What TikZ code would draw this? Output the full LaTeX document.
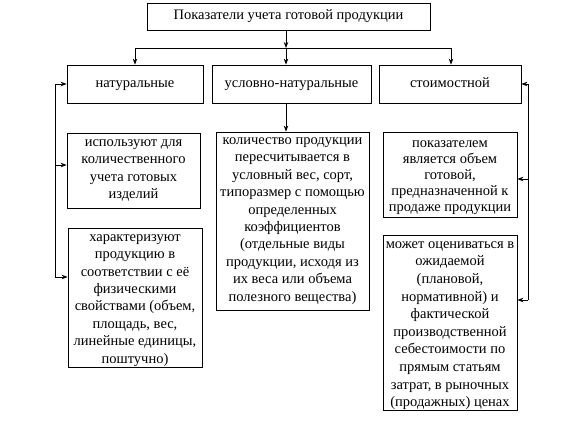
\documentclass[tikz,border=0pt]{standalone}
\usepackage{fontspec}
\setmainfont{Liberation Serif}
\usetikzlibrary{arrows.meta}

\begin{document}
\begin{tikzpicture}[x=1pt,y=-1pt,>={Stealth[length=6pt,width=4.5pt]},
  box/.style={draw,line width=0.8pt,align=center,inner xsep=0.5pt,inner ysep=0pt,
    font=\fontsize{14.5}{17.4}\selectfont},
  kind/.style={box,minimum height=38pt,text height=10.5pt,text depth=3.5pt},
  link/.style={line width=0.8pt}]
\useasboundingbox (0,0) rectangle (567,423);
% title and the three kinds
\node[box,minimum width=283pt,minimum height=27pt] (top) at (288.5,16.5) {Показатели учета готовой продукции};
\node[kind,minimum width=136pt] (nat) at (135,84) {натуральные};
\node[kind,minimum width=159pt] (usl) at (291.5,84) {условно-натуральные};
\node[kind,minimum width=142pt] (stm) at (450,84) {стоимостной};
% explanations
\node[box,minimum width=133pt,minimum height=75pt] (isp) at (133.5,170.5)
  {используют для\\ количественного\\ учета готовых\\ изделий};
\node[box,minimum width=134pt,minimum height=139pt] (har) at (135,297.5)
  {\rule{0pt}{12.5pt}характеризуют\\ продукцию в\\ соответствии с её\\ физическими\\ свойствами (объем,\\ площадь, вес,\\ линейные единицы,\\ поштучно)};
\node[box,minimum width=153pt,minimum height=178pt] (kol) at (292.5,221)
  {количество продукции\\ пересчитывается в\\ условный вес, сорт,\\ типоразмер с помощью\\ определенных\\ коэффициентов\\ (отдельные виды\\ продукции, исходя из\\ их веса или объема\\ полезного вещества)};
\node[box,minimum width=134pt,minimum height=85pt] (pok) at (450,174.5)
  {\rule{0pt}{14pt}показателем\\[-1.4pt] является объем\\[-1.4pt] готовой,\\[-1.4pt] предназначенной к\\[-1.4pt] продаже продукции};
\node[box,minimum width=134pt,minimum height=175pt] (moz) at (450,322.5)
  {\rule{0pt}{13pt}может оцениваться в\\[0.2pt] ожидаемой\\[0.2pt] (плановой,\\[0.2pt] нормативной) и\\[0.2pt] фактической\\[0.2pt] производственной\\[0.2pt] себестоимости по\\[0.2pt] прямым статьям\\[0.2pt] затрат, в рыночных\\[0.2pt] (продажных) ценах};
% branching under the title
\coordinate (bm) at (286,48);
\coordinate (bl) at (135,48);
\coordinate (br) at (451,48);
\draw[link] (bl) -- (br);
\draw[link,->] (top.south -| bm) -- (bm);
\draw[link,->] (bl) -- (bl |- nat.north);
\draw[link,->] (bm) -- (bm |- usl.north);
\draw[link,->] (br) -- (br |- stm.north);
\draw[link,->] (usl.south -| bm) -- (bm |- kol.north);
% left side
\coordinate (lb) at (55,165);
\coordinate (lc) at (55,277);
\draw[link,->] (lc) |- (nat.west);
\draw[link,->] (lb) -- (lb -| isp.west);
\draw[link,->] (lc) -- (lc -| har.west);
% right side
\coordinate (rb) at (528,179);
\coordinate (rc) at (528,300);
\draw[link,->] (rc) |- (stm.east);
\draw[link,->] (rb) -- (rb -| pok.east);
\draw[link,->] (rc) -- (rc -| moz.east);
\end{tikzpicture}
\end{document}
